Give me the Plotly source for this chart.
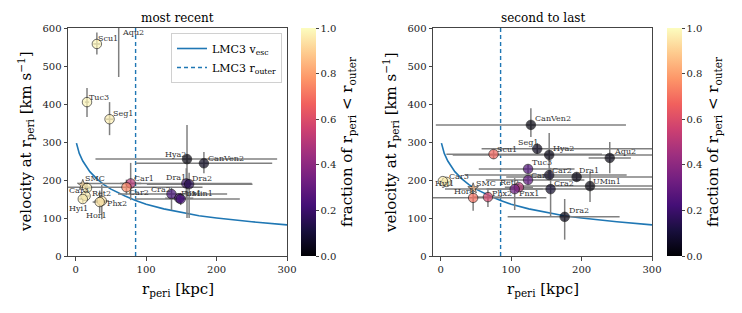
import plotly.graph_objects as go

# ---------------- data ----------------
# escape-velocity curve of LMC3
vesc_r = [1, 5, 10, 20, 30, 40, 50, 60, 70, 85, 100, 125, 150, 175, 200, 250, 300]
vesc_v = [297, 270, 250, 222, 203, 188, 176, 166, 158, 146, 136, 124, 114, 106, 100, 90, 82]
r_outer = 85

# most recent pericentre
rec_names = ["Scu1", "Aqu2", "Tuc3", "Seg1", "Hya2", "CanVen2", "Dra1", "Dra2", "Cra2", "Fnx1", "UMin1",
             "Car1", "Car2", "SMC", "Car3", "Ret2", "Hyi1", "Phx2", "Hor1"]
rec_r = [30, 61, 16, 48, 158, 182, 157, 161, 136, 147, 149, 78, 72, 10, 16, 14, 10, 37, 34]
rec_v = [558, 650, 405, 360, 255, 244, 191, 189, 163, 152, 150, 191, 181, 187, 179, 158, 150, 145, 142]
rec_r_lo = [5, 10, 3, 5, 130, 97, 151, 60, 76, 20, 65, 15, 83, 3, 5, 5, 5, 10, 10]
rec_r_hi = [5, 10, 3, 5, 128, 97, 93, 90, 79, 20, 84, 15, 108, 3, 5, 5, 5, 10, 10]
rec_v_lo = [28, 179, 39, 42, 155, 26, 40, 89, 42, 10, 16, 44, 20, 5, 10, 10, 10, 48, 30]
rec_v_hi = [30, 60, 37, 45, 90, 30, 40, 30, 19, 10, 16, 54, 20, 5, 10, 10, 10, 42, 30]
rec_frac = [0.98, 0.0, 0.98, 0.97, 0.02, 0.05, 0.18, 0.15, 0.22, 0.22, 0.22,
            0.5, 0.75, 0.92, 0.97, 0.97, 0.97, 0.95, 0.95]

# second to last pericentre
prev_names = ["CanVen2", "Seg1", "Hya2", "Scu1", "Aqu2", "Tuc3", "Car1", "Car2", "Dra1", "UMin1",
              "Cra2", "Car3", "Hyi1", "SMC", "Ret2", "Hor1", "Phx2", "Fnx1", "Dra2"]
prev_r = [128, 137, 154, 75, 240, 124, 124, 154, 193, 212, 156, 8, 3, 46, 111, 46, 67, 105, 176]
prev_v = [345, 282, 266, 268, 258, 229, 200, 213, 208, 184, 176, 195, 197, 178, 181, 153, 155, 176, 103]
prev_r_lo = [135, 79, 137, 67, 30, 70, 60, 120, 100, 100, 150, 5, 5, 3, 20, 60, 20, 40, 81]
prev_r_hi = [135, 170, 150, 154, 30, 66, 80, 110, 110, 100, 150, 5, 5, 3, 20, 104, 20, 40, 78]
prev_v_lo = [32, 15, 58, 12, 40, 12, 12, 12, 12, 42, 73, 8, 8, 5, 10, 34, 26, 55, 60]
prev_v_hi = [44, 15, 58, 12, 42, 12, 12, 12, 12, 37, 56, 8, 8, 5, 10, 32, 24, 29, 47]
prev_frac = [0.02, 0.05, 0.03, 0.68, 0.03, 0.25, 0.28, 0.08, 0.03, 0.02,
             0.08, 0.97, 0.97, 0.85, 0.5, 0.7, 0.58, 0.32, 0.03]

x_ticks = [0, 100, 200, 300]
y_ticks = [0, 100, 200, 300, 400, 500, 600]
cb_ticks = [0.0, 0.2, 0.4, 0.6, 0.8, 1.0]

# label pixel offsets (dx right, dy down) of the label's left-middle point
rec_off = {"Scu1": (-1, -5), "Aqu2": (1, 0), "Tuc3": (0, -5), "Seg1": (1, -6), "Hya2": (-24, -5),
           "CanVen2": (2, -5), "Dra1": (-22, -6), "Dra2": (1, -6), "Cra2": (-23, -5), "Fnx1": (0, -5),
           "UMin1": (2, -6), "Car1": (1, -5), "Car2": (1, 5), "SMC": (0, -6), "Car3": (-20, 3),
           "Ret2": (4, -2), "Hyi1": (-16, 9), "Phx2": (3, 3), "Hor1": (-16, 13)}
prev_off = {"CanVen2": (2, -6), "Seg1": (-21, -6), "Hya2": (2, -6), "Scu1": (1, -5), "Aqu2": (2, -6),
            "Tuc3": (2, -6), "Car1": (1, -5), "Car2": (1, -5), "Dra1": (0, -6), "UMin1": (1, -5),
            "Cra2": (1, -6), "Car3": (1, -5), "Hyi1": (-10, 2), "SMC": (1, -5), "Ret2": (-21, -5),
            "Hor1": (-21, -6), "Phx2": (2, -4), "Fnx1": (2, 4), "Dra2": (2, -6)}

SERIF = "DejaVu Serif"
BLUE = "#1f77b4"
W, H = 742, 313

fig = go.Figure()

def panel(names, r, v, rlo, rhi, vlo, vhi, frac, xa, ya, cax, showleg):
    fig.add_trace(go.Scatter(x=vesc_r, y=vesc_v, mode="lines", line=dict(color=BLUE, width=1.6),
                             name="LMC3 v<sub>esc</sub>", showlegend=showleg, xaxis=xa, yaxis=ya))
    fig.add_trace(go.Scatter(x=[r_outer, r_outer], y=[0, 600], mode="lines",
                             line=dict(color=BLUE, width=1.4, dash="4px,3px"),
                             name="LMC3 r<sub>outer</sub>", showlegend=showleg, xaxis=xa, yaxis=ya))
    symbols = ["star" if n == "SMC" else "circle" for n in names]
    sizes = [8 if n == "SMC" else 9.5 for n in names]
    fig.add_trace(go.Scatter(
        x=r, y=v, mode="markers", showlegend=False, xaxis=xa, yaxis=ya,
        error_x=dict(type="data", symmetric=False, array=rhi, arrayminus=rlo,
                     color="#808080", thickness=1.5, width=0),
        error_y=dict(type="data", symmetric=False, array=vhi, arrayminus=vlo,
                     color="#808080", thickness=1.5, width=0),
        marker=dict(color=frac, coloraxis=cax, size=sizes, symbol=symbols,
                    line=dict(color="black", width=0.8))))

panel(rec_names, rec_r, rec_v, rec_r_lo, rec_r_hi, rec_v_lo, rec_v_hi, rec_frac, "x", "y", "coloraxis", True)
panel(prev_names, prev_r, prev_v, prev_r_lo, prev_r_hi, prev_v_lo, prev_v_hi, prev_frac, "x2", "y2", "coloraxis2", False)

ann = []
def labels(names, r, v, offs, xref, yref):
    for n, xx, yy in zip(names, r, v):
        dx, dy = offs[n]
        ann.append(dict(x=xx, y=min(yy, 588), xref=xref, yref=yref, text=n, showarrow=False,
                        xanchor="left", yanchor="middle", xshift=dx, yshift=-dy,
                        font=dict(family=SERIF, size=8, color="#333333")))

labels(rec_names, rec_r, rec_v, rec_off, "x", "y")
labels(prev_names, prev_r, prev_v, prev_off, "x2", "y2")

def px_x(p):
    return p / W

def px_y(p):
    return 1 - p / H

# titles
for txt, cx in [("most recent", 177.5), ("second to last", 542.5)]:
    ann.append(dict(x=px_x(cx), y=px_y(18), xref="paper", yref="paper", text=txt, showarrow=False,
                    xanchor="center", yanchor="middle", font=dict(family=SERIF, size=12, color="black")))
# axis titles
for cx in [177.5, 542.5]:
    ann.append(dict(x=px_x(cx), y=px_y(289), xref="paper", yref="paper", text="r<sub>peri</sub> [kpc]",
                    showarrow=False, xanchor="center", yanchor="middle",
                    font=dict(family=SERIF, size=15, color="black")))
for cx in [25, 390]:
    ann.append(dict(x=px_x(cx), y=px_y(142), xref="paper", yref="paper",
                    text="velocity at r<sub>peri</sub> [km s<sup>−1</sup>]", textangle=-90,
                    showarrow=False, xanchor="center", yanchor="middle",
                    font=dict(family=SERIF, size=15, color="black")))

axis_common = dict(showline=True, linecolor="#444444", linewidth=1, mirror=True, ticks="outside",
                   ticklen=3.5, tickwidth=1, tickcolor="#444444", showgrid=False, zeroline=False,
                   tickfont=dict(family=SERIF, size=10, color="#222222"))

ydom = [px_y(256), px_y(28)]
cb_common = dict(tickvals=cb_ticks, tickformat=".1f", ticks="outside", ticklen=3, thickness=15,
                 len=ydom[1] - ydom[0], lenmode="fraction", y=ydom[0], yanchor="bottom", ypad=0, xpad=0,
                 outlinewidth=0, tickfont=dict(family=SERIF, size=10, color="#222222"),
                 title=dict(text="fraction of r<sub>peri</sub> &lt; r<sub>outer</sub>", side="right",
                            font=dict(family=SERIF, size=15, color="black")))

fig.update_layout(
    width=W, height=H, margin=dict(l=0, r=0, t=0, b=0, autoexpand=False),
    plot_bgcolor="white", paper_bgcolor="white",
    xaxis=dict(domain=[px_x(68), px_x(287)], range=[-11, 300], tickvals=x_ticks, anchor="y", **axis_common),
    yaxis=dict(domain=ydom, range=[0, 600], tickvals=y_ticks, anchor="x", **axis_common),
    xaxis2=dict(domain=[px_x(433), px_x(652)], range=[-11, 300], tickvals=x_ticks, anchor="y2", **axis_common),
    yaxis2=dict(domain=ydom, range=[0, 600], tickvals=y_ticks, anchor="x2", **axis_common),
    coloraxis=dict(colorscale="Magma", cmin=0, cmax=1,
                   colorbar=dict(x=px_x(301), xanchor="left", **cb_common)),
    coloraxis2=dict(colorscale="Magma", cmin=0, cmax=1,
                    colorbar=dict(x=px_x(667), xanchor="left", **cb_common)),
    legend=dict(x=px_x(282), y=px_y(33), xanchor="right", yanchor="top", bgcolor="white",
                bordercolor="#d0d0d0", borderwidth=1, font=dict(family=SERIF, size=11, color="black"),
                itemwidth=30, tracegroupgap=4),
    annotations=ann,
)

fig.write_html("out.html", config={"displayModeBar": False},
               post_script="document.body.style.margin='0px';")
